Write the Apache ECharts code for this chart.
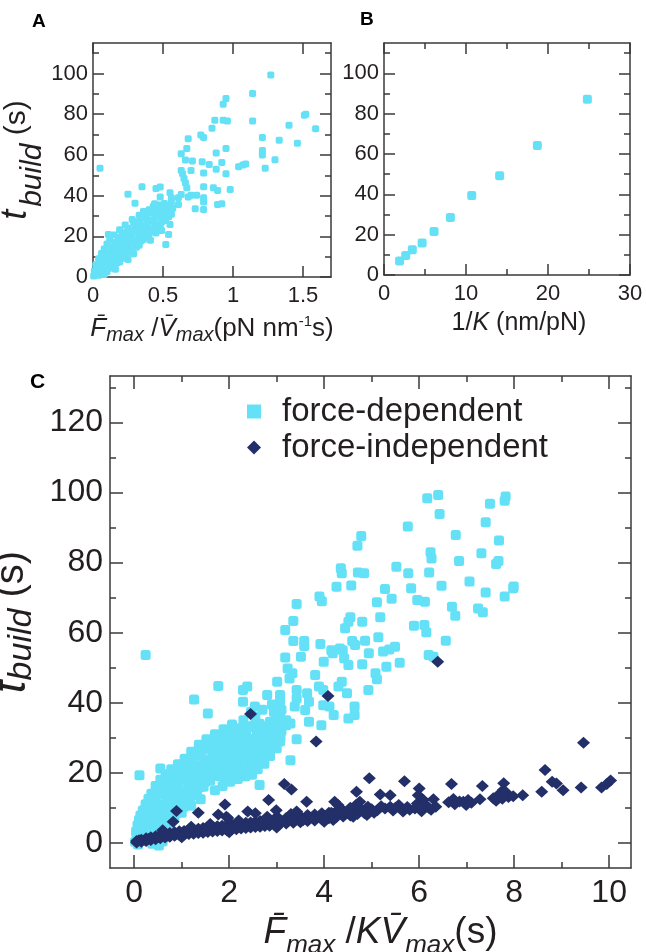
<!DOCTYPE html>
<html>
<head>
<meta charset="utf-8">
<title>t_build scatter panels</title>
<script src="https://cdn.jsdelivr.net/npm/echarts@6/dist/echarts.min.js"></script>
<style>
  html, body { margin: 0; padding: 0; background: #fff; }
  #chart { width: 646px; height: 952px; }
</style>
</head>
<body>
<div id="chart"></div>
<script>
// ---- tick values ----
const aXTicks = [0, 0.5, 1, 1.5];
const aYTicks = [0, 20, 40, 60, 80, 100];
const aYMinor = [10, 30, 50, 70, 90, 110];
const bXTicks = [0, 10, 20, 30];
const bXMinor = [5, 15, 25];
const cXTicks = [0, 2, 4, 6, 8, 10];
const cXMinor = [1, 3, 5, 7, 9];
const cYTicks = [0, 20, 40, 60, 80, 100, 120];
const cYMinor = [10, 30, 50, 70, 90, 110, 130];

const legendNames = ['force-dependent', 'force-independent'];

// ---- panel A : Fmax/Vmax vs t_build ----
const aSpread = [
  [1.27, 99.3], [1.14, 90.2], [0.95, 87.7], [0.93, 84.9], [0.87, 77.0], [0.93, 77.0], [0.96, 76.7],
  [1.14, 76.7], [1.52, 80.0], [1.51, 79.5], [1.40, 74.6], [1.59, 72.9], [0.85, 73.1], [0.68, 68.0],
  [0.77, 69.8], [0.79, 68.5], [1.21, 68.5], [1.33, 67.2], [1.46, 65.7], [0.67, 63.1], [0.63, 60.6],
  [0.88, 60.9], [0.95, 63.1], [1.21, 62.2], [1.21, 59.9], [1.30, 57.6], [0.66, 57.5], [0.71, 57.0],
  [0.78, 56.7], [0.83, 55.3], [0.92, 56.3], [1.04, 54.2], [1.07, 55.0], [1.09, 55.5], [1.23, 53.4],
  [0.05, 53.4], [0.63, 52.4], [0.64, 50.7], [0.70, 52.4], [0.88, 52.9], [0.79, 51.1], [0.95, 50.7],
  [0.65, 48.4], [0.66, 46.3], [0.67, 43.9], [0.35, 44.4], [0.45, 43.5], [0.48, 44.2], [0.25, 40.7],
  [0.30, 36.3], [0.55, 41.4], [0.56, 38.9], [0.61, 38.9], [0.63, 40.6], [0.68, 39.3], [0.70, 40.2],
  [0.74, 40.2], [0.79, 44.4], [0.79, 38.9], [0.79, 36.8], [0.73, 33.5], [0.79, 33.2], [0.86, 43.9],
  [0.89, 42.5], [0.98, 43.0], [0.89, 35.6], [0.92, 36.0], [0.51, 32.4], [0.55, 25.8], [0.54, 20.9],
  [0.49, 22.8], [0.52, 16.0], [0.11, 20.9], [0.48, 39.3], [0.51, 36.1], [0.61, 35.6]
];
const aCore = [
  [0.005, 0.5], [0.02, 1.5], [0.04, 0.8], [0.06, 2.0], [0.01, 3.0], [0.03, 4.2], [0.07, 3.5], [0.10, 2.6],
  [0.12, 4.5], [0.02, 6.0], [0.05, 7.2], [0.09, 6.4], [0.14, 5.8], [0.17, 6.9], [0.04, 9.0], [0.08, 8.8],
  [0.12, 9.6], [0.16, 8.5], [0.21, 9.2], [0.24, 10.1], [0.06, 11.5], [0.11, 12.0], [0.15, 11.2], [0.19, 12.4],
  [0.23, 11.7], [0.27, 12.6], [0.08, 13.8], [0.13, 14.5], [0.18, 13.6], [0.22, 14.8], [0.26, 14.0], [0.31, 14.6],
  [0.10, 16.2], [0.15, 17.0], [0.20, 16.4], [0.25, 17.4], [0.29, 16.8], [0.34, 17.6], [0.12, 18.6], [0.18, 19.5],
  [0.23, 18.8], [0.28, 19.8], [0.33, 19.0], [0.38, 19.6], [0.15, 20.6], [0.21, 21.6], [0.27, 21.0], [0.32, 22.0],
  [0.37, 21.2], [0.42, 22.4], [0.19, 23.2], [0.25, 24.0], [0.30, 23.4], [0.35, 24.4], [0.40, 23.6], [0.45, 24.8],
  [0.23, 25.6], [0.29, 26.4], [0.34, 25.8], [0.39, 26.8], [0.44, 26.0], [0.49, 27.0], [0.28, 28.2], [0.34, 28.8],
  [0.39, 28.0], [0.44, 29.0], [0.50, 28.6], [0.54, 29.6], [0.33, 30.4], [0.39, 31.2], [0.45, 30.6], [0.51, 31.4],
  [0.56, 30.8], [0.40, 33.0], [0.46, 33.6], [0.52, 32.8], [0.57, 33.8], [0.47, 35.4], [0.53, 35.0],
  [0.07, 10.2], [0.10, 7.8], [0.14, 10.6], [0.17, 15.2], [0.21, 12.8], [0.24, 20.2], [0.30, 18.2], [0.36, 22.8],
  [0.31, 27.2], [0.42, 27.6], [0.47, 32.2], [0.36, 32.2], [0.43, 34.6],
  [0.03, 2.2], [0.08, 1.2], [0.05, 5.0], [0.11, 4.0], [0.16, 3.8], [0.07, 8.0], [0.13, 7.6], [0.19, 7.4],
  [0.10, 10.5], [0.18, 10.4], [0.25, 8.6], [0.13, 12.9], [0.21, 11.0], [0.29, 11.4], [0.16, 15.5], [0.24, 15.8],
  [0.33, 15.6], [0.19, 17.8], [0.27, 18.2], [0.36, 18.4], [0.41, 18.0], [0.24, 22.0], [0.35, 20.2], [0.40, 21.0],
  [0.45, 21.6], [0.27, 22.8], [0.38, 25.0], [0.48, 25.6], [0.32, 25.2], [0.43, 27.8], [0.52, 27.8], [0.36, 29.6],
  [0.48, 29.8], [0.42, 31.6], [0.55, 32.2], [0.50, 34.2], [0.44, 36.0], [0.56, 36.8]
];

// ---- panel B : 1/K vs t_build ----
const bInvK = [1.9, 2.65, 3.45, 4.65, 6.1, 8.1, 10.7, 14.1, 18.7, 24.8];
const bTbuild = [6.9, 9.7, 12.5, 15.9, 21.6, 28.5, 39.4, 49.2, 64.2, 87.1];

// ---- panel C : Fmax/(K Vmax) vs t_build ----
const cDependentSpread = [
  [6.17, 98.4], [6.40, 99.3], [6.43, 93.9], [7.82, 98.9], [7.80, 97.7], [7.49, 96.8], [5.76, 90.3],
  [7.40, 91.5], [6.77, 87.9], [7.68, 86.3], [4.78, 87.6], [4.70, 84.8], [6.24, 83.0], [6.26, 81.2],
  [7.31, 82.7], [6.84, 80.5], [7.67, 80.5], [7.62, 79.6], [4.35, 78.4], [4.37, 77.0], [4.71, 77.2],
  [4.84, 77.0], [5.52, 78.8], [5.77, 77.0], [6.21, 77.2], [4.26, 73.1], [4.57, 73.5], [5.28, 72.5],
  [5.83, 72.7], [6.47, 73.4], [7.06, 74.6], [7.40, 71.5], [7.98, 72.7], [7.99, 73.2], [3.42, 68.2],
  [3.90, 70.3], [3.95, 69.0], [5.11, 68.7], [5.42, 69.7], [5.96, 69.3], [6.12, 68.8], [6.69, 67.4],
  [6.76, 64.8], [7.24, 66.9], [7.34, 65.8], [7.80, 70.3], [3.35, 63.3], [3.18, 60.8], [4.55, 64.4],
  [4.51, 63.1], [4.44, 61.3], [4.80, 63.1], [5.18, 64.4], [5.89, 62.0], [6.11, 62.2], [6.15, 60.1],
  [3.35, 57.6], [3.58, 57.6], [3.58, 56.2], [3.92, 56.8], [4.15, 55.0], [4.33, 55.5], [4.18, 54.1],
  [4.59, 57.6], [4.65, 56.5], [4.86, 57.7], [5.14, 58.7], [5.24, 54.6], [5.37, 55.2], [5.49, 56.0],
  [4.94, 54.1], [6.56, 57.7], [0.24, 53.6], [3.18, 52.9], [3.51, 53.1], [6.20, 53.6], [6.30, 53.1],
  [4.39, 55.0], [4.42, 52.7], [4.51, 50.8], [4.80, 51.0], [5.31, 50.3], [5.59, 51.4], [3.99, 51.7],
  [3.23, 49.8], [3.33, 48.4], [3.27, 46.9], [3.81, 47.9], [5.08, 48.4], [5.11, 46.7], [3.01, 46.0],
  [4.37, 46.0], [2.38, 44.6], [2.29, 43.6], [1.77, 44.8], [1.26, 40.9], [1.55, 36.9], [2.29, 40.3],
  [2.54, 38.9], [2.46, 37.4], [2.80, 42.2], [3.07, 42.2], [3.07, 40.3], [3.42, 43.6], [3.42, 41.2],
  [3.64, 42.7], [3.68, 40.3], [3.89, 44.6], [3.98, 43.6], [4.30, 44.6], [4.48, 42.7], [4.64, 38.9],
  [4.93, 43.6], [4.51, 35.5], [4.64, 36.5], [3.98, 39.3], [4.11, 38.9], [4.20, 36.5], [3.68, 34.6],
  [3.94, 33.6], [3.20, 33.6], [3.29, 34.1], [2.94, 37.4], [3.07, 36.5], [3.38, 38.9], [3.60, 37.9],
  [3.42, 29.6], [3.29, 23.6], [3.07, 28.9], [2.64, 16.5], [0.55, 21.2], [0.11, 19.3]
];
const cDependentCore = [
  [0.02, 0.3], [0.05, 1.5], [0.08, -0.5], [0.04, 3.2], [0.10, 2.5], [0.12, 0.8], [0.07, 5.0], [0.14, 4.2],
  [0.18, 1.8], [0.10, 6.5], [0.16, 6.0], [0.22, 3.5], [0.26, 0.5], [0.13, 7.8], [0.20, 8.0], [0.27, 5.6],
  [0.33, 2.4], [0.38, -0.3], [0.18, 9.2], [0.25, 9.8], [0.31, 7.8], [0.38, 4.6], [0.45, 1.2], [0.52, -0.8],
  [0.24, 11.0], [0.30, 11.6], [0.37, 9.8], [0.44, 6.8], [0.52, 3.6], [0.60, 0.4], [0.30, 12.6], [0.36, 14.0],
  [0.44, 11.8], [0.52, 9.0], [0.60, 6.0], [0.68, 2.8], [0.45, 16.2], [0.52, 13.8], [0.60, 11.0], [0.68, 8.2],
  [0.76, 5.4], [0.55, 18.0], [0.61, 15.8], [0.69, 13.2], [0.77, 10.4], [0.85, 7.6], [0.66, 19.6], [0.72, 17.4],
  [0.80, 15.0], [0.88, 12.4], [0.96, 9.6], [0.78, 21.0], [0.84, 19.0], [0.92, 16.8], [1.00, 14.4], [1.08, 11.6],
  [0.92, 22.4], [0.97, 20.6], [1.05, 18.6], [1.14, 16.2], [1.22, 13.6], [1.06, 24.0], [1.11, 22.2], [1.20, 20.4],
  [1.28, 18.2], [1.36, 15.8], [1.20, 26.0], [1.25, 23.8], [1.34, 22.0], [1.43, 20.0], [1.50, 17.4], [1.36, 28.0],
  [1.40, 25.4], [1.49, 23.6], [1.58, 21.6], [1.66, 19.2], [1.52, 29.6], [1.56, 27.0], [1.65, 25.4], [1.74, 23.4],
  [1.82, 21.0], [1.70, 31.0], [1.72, 28.6], [1.82, 27.0], [1.90, 25.0], [1.98, 22.8], [1.88, 32.4], [1.90, 30.0],
  [2.00, 28.6], [2.08, 26.6], [2.16, 24.4], [2.06, 33.8], [2.08, 31.4], [2.18, 30.2], [2.26, 28.2], [2.34, 26.0],
  [2.30, 35.0], [2.26, 32.8], [2.36, 31.6], [2.44, 29.6], [2.52, 27.4], [2.60, 25.0], [2.55, 36.0], [2.50, 33.4],
  [2.58, 31.6], [2.66, 29.8], [2.74, 27.6], [2.82, 25.6], [2.98, 36.6], [2.76, 33.2], [2.84, 31.2], [2.92, 29.2],
  [3.02, 34.0], [1.40, 12.4], [1.20, 10.6], [1.00, 8.6], [0.80, 6.6], [1.70, 15.0], [1.86, 16.2], [2.02, 17.4],
  [2.18, 18.2], [2.34, 19.0], [2.48, 19.4], [2.60, 21.0], [2.74, 22.6], [2.86, 24.8], [3.00, 27.0], [1.60, 21.0],
  [1.80, 19.0], [2.00, 20.5], [2.20, 22.0], [2.40, 23.0], [2.50, 25.0], [2.45, 28.5], [2.65, 31.0], [2.90, 33.0],
  [3.10, 32.0], [3.20, 35.0], [2.80, 28.0], [2.95, 30.5], [3.10, 38.0], [2.70, 38.0], [2.90, 39.5],
  [0.08, 3.0], [0.15, 2.0], [0.20, 5.0], [0.28, 3.8], [0.34, 6.2], [0.41, 3.0], [0.48, 5.4], [0.56, 2.0],
  [0.64, 4.4], [0.72, 6.8], [0.35, 11.0], [0.40, 8.4], [0.48, 10.6], [0.56, 7.6], [0.65, 9.6], [0.73, 12.0],
  [0.82, 9.0], [0.90, 10.8], [0.48, 14.8], [0.57, 16.8], [0.65, 14.6], [0.74, 15.6], [0.86, 14.0], [0.96, 12.8],
  [1.04, 10.2], [0.70, 18.6], [0.82, 17.6], [0.90, 19.8], [0.98, 17.8], [1.10, 14.8], [1.18, 12.2], [1.02, 21.4],
  [1.16, 19.4], [1.24, 16.8], [1.32, 14.2], [1.14, 23.2], [1.30, 20.8], [1.38, 18.8], [1.46, 16.0], [1.30, 25.0],
  [1.46, 22.4], [1.54, 20.0], [1.60, 17.8], [1.44, 26.6], [1.62, 24.0], [1.70, 22.2], [1.78, 19.8], [1.62, 28.2],
  [1.76, 26.0], [1.86, 23.8], [1.94, 21.2], [1.80, 29.6], [1.96, 27.2], [2.04, 25.0], [2.10, 22.6], [1.98, 31.2],
  [2.14, 28.6], [2.22, 26.6], [2.28, 24.2], [2.16, 32.6], [2.32, 29.8], [2.40, 27.0], [2.42, 25.2], [2.40, 33.0],
  [2.56, 29.0], [2.62, 27.0], [2.70, 24.6], [2.64, 34.0], [2.70, 32.4], [2.86, 34.6], [2.82, 30.0], [2.96, 27.8],
  [3.08, 30.0], [2.10, 19.8], [2.26, 20.6], [2.56, 22.8], [1.92, 18.4], [2.40, 21.0]
];

const cIndependentSpread = [
  [6.39, 51.7], [4.08, 41.9], [2.45, 36.8], [3.83, 28.9], [9.46, 28.6], [8.65, 20.8],
  [4.95, 18.4], [5.69, 17.6], [6.68, 16.8], [7.33, 16.2], [7.78, 17.0], [7.77, 15.1], [7.70, 14.1],
  [8.58, 14.6], [8.80, 17.4], [8.89, 16.9], [9.03, 15.0], [9.41, 15.8], [9.84, 15.8], [9.95, 16.8],
  [10.03, 17.8], [8.18, 13.6], [4.68, 14.6], [5.18, 13.8], [5.39, 13.6], [6.00, 15.5], [5.98, 13.6],
  [3.63, 11.7], [4.22, 11.7], [4.29, 10.8], [4.67, 10.8], [4.75, 11.7], [4.92, 10.3], [5.12, 9.3],
  [5.28, 9.8], [5.39, 10.3], [5.57, 10.8], [5.66, 8.9], [5.91, 9.8], [5.96, 11.2], [6.09, 12.2],
  [6.30, 12.4], [6.35, 10.3], [6.62, 11.6], [6.72, 12.5], [6.93, 11.7], [7.03, 12.2], [6.99, 10.8],
  [7.28, 12.4], [7.56, 12.7], [7.67, 13.6], [7.88, 13.1], [7.98, 13.3], [3.56, 6.5], [3.77, 7.0],
  [4.05, 7.0], [4.19, 6.5], [4.40, 7.9], [4.61, 7.4], [4.90, 7.9], [3.16, 16.8], [3.31, 15.2],
  [2.83, 12.2], [1.91, 10.9], [0.89, 9.1], [1.35, 8.6], [2.39, 8.9], [2.55, 8.4], [2.99, 9.3],
  [3.42, 8.9], [1.94, 7.4], [1.77, 8.1], [1.97, 7.1], [0.82, 6.0], [6.05, 9.0], [6.20, 10.0],
  [6.12, 11.0], [6.25, 9.4], [6.75, 11.0], [6.85, 11.8], [7.10, 11.4], [7.62, 12.0], [7.75, 12.6],
  [7.82, 14.5], [4.15, 8.6], [4.35, 9.4], [4.50, 8.5], [4.55, 10.0], [4.80, 9.2], [5.00, 9.6],
  [5.05, 8.6], [5.20, 10.4], [5.45, 9.2], [5.50, 10.0], [5.75, 10.2], [5.80, 9.4]
];
const cIndependentCore = [
  [0.05, 0.1], [0.05, 0.5], [0.15, 0.3], [0.15, 0.9], [0.25, 0.5], [0.25, 1.3], [0.35, 0.8], [0.35, 1.6],
  [0.45, 1.0], [0.45, 1.9], [0.55, 1.3], [0.55, 2.2], [0.65, 1.5], [0.65, 2.5], [0.75, 1.7], [0.75, 2.8],
  [0.85, 2.0], [0.85, 3.0], [0.95, 2.2], [0.95, 3.3], [1.05, 2.3], [1.05, 3.4], [1.15, 2.5], [1.15, 3.6],
  [1.25, 2.6], [1.25, 3.8], [1.35, 2.8], [1.35, 4.0], [1.45, 2.9], [1.45, 4.2], [1.55, 3.1], [1.55, 4.3],
  [1.65, 3.2], [1.65, 4.6], [1.75, 3.4], [1.75, 4.7], [1.85, 3.5], [1.85, 4.9], [1.95, 3.6], [1.95, 5.1],
  [2.05, 3.8], [2.05, 5.3], [2.15, 3.9], [2.15, 5.2], [2.25, 4.1], [2.25, 5.5], [2.35, 4.2], [2.35, 5.7],
  [2.45, 4.4], [2.45, 5.8], [2.55, 4.5], [2.55, 6.0], [2.65, 4.6], [2.65, 6.2], [2.75, 4.8], [2.75, 6.3],
  [2.85, 4.9], [2.85, 6.6], [2.95, 5.1], [2.95, 6.8], [3.05, 5.2], [3.05, 6.9], [3.20, 5.5], [3.20, 7.1],
  [3.35, 5.7], [3.35, 7.4], [3.50, 5.9], [3.50, 7.6], [3.65, 6.2], [3.65, 7.9], [3.80, 6.4], [3.80, 8.1],
  [3.95, 6.7], [3.95, 8.4], [4.10, 7.0], [4.10, 8.6], [4.25, 7.3], [4.25, 8.9], [4.40, 7.5], [4.40, 9.2],
  [4.55, 7.8], [4.70, 8.2], [4.70, 9.6], [4.85, 8.4],
  [0.10, 0.7], [0.30, 1.1], [0.50, 1.6], [0.70, 2.1], [0.90, 2.6], [1.10, 3.0], [1.30, 3.3], [1.50, 3.6],
  [1.70, 4.0], [1.90, 4.3], [2.10, 4.6], [2.30, 4.9], [2.50, 5.2], [2.70, 5.5], [2.90, 5.8], [3.10, 6.1],
  [3.30, 6.5], [3.55, 6.8], [3.75, 7.2], [4.00, 7.6], [4.20, 8.0], [4.45, 8.4], [4.65, 8.8], [4.90, 9.0],
  [0.60, 3.6], [1.20, 4.6], [1.60, 5.4], [2.20, 6.4], [2.80, 7.4], [3.30, 8.2], [1.00, 1.6], [2.00, 3.0],
  [3.00, 4.4], [4.00, 6.0]
];

// ---- styling ----
const ink = '#231f20';
const frame = '#3a3a3a';
const cyan = '#64e1f6';
const navy = '#232f68';
const sans = '"Liberation Sans", Arial, sans-serif';

const xAxes = [];
const yAxes = [];

// one side of the frame: an axis with major ticks (labels optional) plus an axis for the minor ticks
function addSide(list, grid, pos, s, withLabels) {
  const idx = list.length;
  const lineStyle = { color: frame, width: 1.5 };
  const axis = {
    type: 'value', gridIndex: grid, position: pos, min: s.min, max: s.max,
    splitLine: { show: false },
    axisLine: { show: true, onZero: false, lineStyle },
    axisTick: { show: true, inside: true, length: s.tick, customValues: s.major, lineStyle },
    axisLabel: withLabels
      ? { show: true, customValues: s.major, margin: s.margin, fontSize: s.font, color: ink, fontFamily: sans }
      : { show: false }
  };
  if (withLabels && s.name) {
    axis.name = s.name;
    axis.nameLocation = 'middle';
    axis.nameGap = s.nameGap;
    axis.nameTextStyle = s.nameStyle;
  }
  list.push(axis);
  if (s.minor) {
    list.push({
      type: 'value', gridIndex: grid, position: pos, min: s.min, max: s.max,
      splitLine: { show: false },
      axisLine: { show: false, onZero: false },
      axisTick: { show: true, inside: true, length: s.minorTick, customValues: s.minor, lineStyle },
      axisLabel: { show: false }
    });
  }
  return idx;
}

function italic(size, extra) {
  return Object.assign({ fontSize: size, fontStyle: 'italic', fontFamily: sans, color: ink }, extra || {});
}
function upright(size, extra) {
  return Object.assign({ fontSize: size, fontFamily: sans, color: ink }, extra || {});
}

// panel A axes
const aX = addSide(xAxes, 0, 'bottom', {
  min: 0, max: 1.7, major: aXTicks, tick: 11, margin: 8, font: 22,
  name: '{i|F\u0304}{s|max}{n| /}{i|V\u0304}{s|max}{n|(pN nm}{p|-1}{n|s)}',
  nameGap: 36,
  nameStyle: { rich: { i: italic(26), s: italic(20, { padding: [12, 0, 0, 0] }), n: upright(26), p: upright(15, { padding: [0, 0, 14, 0] }) } }
}, true);
addSide(xAxes, 0, 'top', { min: 0, max: 1.7, major: aXTicks, tick: 11 }, false);
const aY = addSide(yAxes, 0, 'left', {
  min: 0, max: 115, major: aYTicks, minor: aYMinor, tick: 11, minorTick: 6, margin: 5, font: 22,
  name: '{t|t}{b|build}{s| (s)}',
  nameGap: 19,
  nameStyle: { rich: { t: italic(36), b: italic(30, { padding: [32, 0, 0, 3] }), s: upright(30) } }
}, true);
addSide(yAxes, 0, 'right', { min: 0, max: 115, major: aYTicks, minor: aYMinor, tick: 11, minorTick: 6 }, false);

// panel B axes
const bX = addSide(xAxes, 1, 'bottom', {
  min: 0, max: 30, major: bXTicks, minor: bXMinor, tick: 11, minorTick: 6, margin: 8, font: 22,
  name: '{n|1/}{i|K}{n| (nm/pN)}',
  nameGap: 36,
  nameStyle: { padding: [0, 0, 0, 24], rich: { n: upright(25), i: italic(25) } }
}, true);
addSide(xAxes, 1, 'top', { min: 0, max: 30, major: bXTicks, minor: bXMinor, tick: 11, minorTick: 6 }, false);
const bY = addSide(yAxes, 1, 'left', {
  min: 0, max: 115, major: aYTicks, minor: aYMinor, tick: 11, minorTick: 6, margin: 5, font: 22
}, true);
addSide(yAxes, 1, 'right', { min: 0, max: 115, major: aYTicks, minor: aYMinor, tick: 11, minorTick: 6 }, false);

// panel C axes
const cX = addSide(xAxes, 2, 'bottom', {
  min: -0.51, max: 10.46, major: cXTicks, minor: cXMinor, tick: 13, minorTick: 6, margin: 9, font: 32,
  name: '{i|F\u0304}{s|max}{n| /}{i|KV\u0304}{s|max}{n|(s)}',
  nameGap: 28,
  nameStyle: { padding: [0, 0, 0, 20], rich: { i: italic(37), s: italic(26, { padding: [26, 0, 0, 0] }), n: upright(37) } }
}, true);
addSide(xAxes, 2, 'top', { min: -0.51, max: 10.46, major: cXTicks, minor: cXMinor, tick: 13, minorTick: 6 }, false);
const cY = addSide(yAxes, 2, 'left', {
  min: -7.2, max: 133.3, major: cYTicks, minor: cYMinor, tick: 13, minorTick: 6, margin: 7, font: 32,
  name: '{t|t}{b|build}{s| (s)}',
  nameGap: 37,
  nameStyle: { rich: { t: italic(46), b: italic(34, { padding: [20, 0, 0, 0] }), s: upright(40) } }
}, true);
addSide(yAxes, 2, 'right', { min: -7.2, max: 133.3, major: cYTicks, minor: cYMinor, tick: 13, minorTick: 6 }, false);

const chart = echarts.init(document.getElementById('chart'), null, { renderer: 'canvas' });

const letter = (text, left, top, size) => ({
  text, left, top, padding: 0,
  textStyle: { fontSize: size, fontWeight: 'bold', color: '#000', fontFamily: sans }
});

chart.setOption({
  animation: false,
  backgroundColor: '#fff',
  textStyle: { fontFamily: sans },
  title: [letter('A', 32, 12, 19), letter('B', 360, 10, 19), letter('C', 30, 372, 21)],
  grid: [
    { left: 93, top: 43, width: 238, height: 234, outerBoundsMode: 'none' },
    { left: 384, top: 43, width: 246, height: 232, outerBoundsMode: 'none' },
    { left: 110, top: 376, width: 521, height: 492, outerBoundsMode: 'none' }
  ],
  xAxis: xAxes,
  yAxis: yAxes,
  legend: {
    data: [
      { name: legendNames[0], icon: 'rect' },
      { name: legendNames[1], icon: 'diamond' }
    ],
    orient: 'vertical',
    left: 242, top: 390,
    itemWidth: 14, itemHeight: 14, itemGap: 3,
    selectedMode: false,
    textStyle: { fontSize: 33, color: ink, fontFamily: sans, lineHeight: 31, padding: [0, 0, 0, 16] }
  },
  series: [
    {
      name: 'A', type: 'scatter', xAxisIndex: aX, yAxisIndex: aY,
      data: aCore.concat(aSpread),
      symbol: 'roundRect', symbolSize: 7, itemStyle: { color: cyan, opacity: 1 }, silent: true
    },
    {
      name: 'B', type: 'scatter', xAxisIndex: bX, yAxisIndex: bY,
      data: bInvK.map((v, i) => [v, bTbuild[i]]),
      symbol: 'roundRect', symbolSize: 9, itemStyle: { color: cyan, opacity: 1 }, silent: true
    },
    {
      name: legendNames[0], type: 'scatter', xAxisIndex: cX, yAxisIndex: cY,
      data: cDependentCore.concat(cDependentSpread),
      symbol: 'roundRect', symbolSize: 10, itemStyle: { color: cyan, opacity: 1 }, silent: true
    },
    {
      name: legendNames[1], type: 'scatter', xAxisIndex: cX, yAxisIndex: cY,
      data: cIndependentCore.concat(cIndependentSpread),
      symbol: 'diamond', symbolSize: [13, 12], itemStyle: { color: navy, opacity: 1 }, silent: true
    }
  ]
});
</script>
</body>
</html>
